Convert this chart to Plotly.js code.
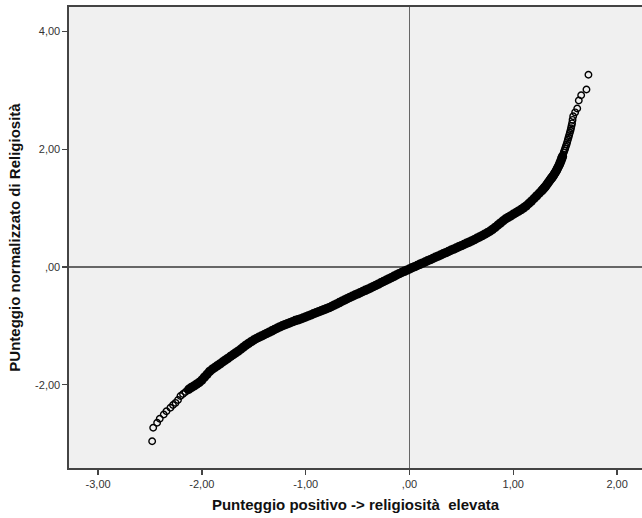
<!DOCTYPE html>
<html>
<head>
<meta charset="utf-8">
<script src="https://cdn.plot.ly/plotly-3.0.1.min.js"></script>
<style>html,body{margin:0;padding:0;background:#fff}#chart{width:642px;height:518px}</style>
</head>
<body>
<div id="chart"></div>
<script>
const xTickVals = [-3, -2, -1, 0, 1, 2];
const xTickText = ["-3,00", "-2,00", "-1,00", ",00", "1,00", "2,00"];
const yTickVals = [-2, 0, 2, 4];
const yTickText = ["-2,00", ",00", "2,00", "4,00"];

// sparse lower tail
const tailX = [-2.479,-2.469,-2.431,-2.406,-2.367,-2.341,-2.303,-2.278,-2.254,-2.230,-2.206,-2.182,-2.158,-2.134];
const tailY = [-2.960,-2.732,-2.647,-2.579,-2.506,-2.450,-2.392,-2.345,-2.308,-2.260,-2.192,-2.158,-2.124,-2.090];

// dense central band
const bandX = [
-2.125,-2.100,-2.075,-2.050,-2.025,-2.000,-1.975,-1.950,-1.925,-1.900,-1.875,-1.850,-1.825,-1.800,-1.775,-1.750,
-1.725,-1.700,-1.675,-1.650,-1.625,-1.600,-1.575,-1.550,-1.525,-1.500,-1.475,-1.450,-1.425,-1.400,-1.375,-1.350,
-1.325,-1.300,-1.275,-1.250,-1.225,-1.200,-1.175,-1.150,-1.125,-1.100,-1.075,-1.050,-1.025,-1.000,-0.975,-0.950,
-0.925,-0.900,-0.875,-0.850,-0.825,-0.800,-0.775,-0.750,-0.725,-0.700,-0.675,-0.650,-0.625,-0.600,-0.575,-0.550,
-0.525,-0.500,-0.475,-0.450,-0.425,-0.400,-0.375,-0.350,-0.325,-0.300,-0.275,-0.250,-0.225,-0.200,-0.175,-0.150,
-0.125,-0.100,-0.075,-0.050,-0.025,0.000,0.025,0.050,0.075,0.100,0.125,0.150,0.175,0.200,0.225,0.250,
0.275,0.300,0.325,0.350,0.375,0.400,0.425,0.450,0.475,0.500,0.525,0.550,0.575,0.600,0.625,0.650,
0.675,0.700,0.725,0.750,0.775,0.800,0.825,0.850,0.875,0.900,0.925,0.950,0.975,1.000,1.025,1.050,
1.075,1.100,1.125,1.150,1.175,1.200,1.225,1.250,
1.275,1.287,1.300,1.310,1.322,1.334,1.346,1.358,1.368,1.378,1.387,1.397,1.406,1.416,1.425,1.435,1.445,
1.452,1.460,1.467,1.474
];
const bandY = [
-2.077,-2.045,-2.019,-1.991,-1.961,-1.921,-1.872,-1.823,-1.774,-1.738,-1.707,-1.676,-1.645,-1.614,-1.583,-1.552,
-1.521,-1.491,-1.460,-1.429,-1.398,-1.362,-1.328,-1.297,-1.267,-1.240,-1.215,-1.194,-1.172,-1.150,-1.128,-1.106,
-1.084,-1.062,-1.040,-1.017,-0.998,-0.980,-0.963,-0.946,-0.928,-0.910,-0.897,-0.884,-0.866,-0.849,-0.831,-0.813,
-0.795,-0.778,-0.761,-0.743,-0.725,-0.708,-0.690,-0.670,-0.648,-0.626,-0.604,-0.582,-0.560,-0.538,-0.516,-0.496,
-0.476,-0.456,-0.436,-0.416,-0.396,-0.376,-0.356,-0.334,-0.312,-0.290,-0.268,-0.246,-0.224,-0.202,-0.180,-0.158,
-0.136,-0.113,-0.093,-0.073,-0.053,-0.033,-0.013,0.007,0.026,0.046,0.066,0.086,0.106,0.125,0.145,0.165,
0.185,0.205,0.225,0.244,0.264,0.284,0.304,0.324,0.344,0.364,0.383,0.403,0.422,0.444,0.466,0.488,
0.510,0.534,0.558,0.583,0.607,0.640,0.674,0.710,0.745,0.781,0.816,0.843,0.869,0.896,0.922,0.949,
0.976,1.006,1.039,1.079,1.120,1.164,1.208,1.253,
1.299,1.321,1.348,1.368,1.398,1.428,1.457,1.487,1.510,1.532,1.555,1.584,1.611,1.640,1.672,1.707,1.742,
1.775,1.808,1.845,1.878
];

// sparse upper tail
const topX = [1.480,1.487,1.493,1.499,1.506,1.513,1.519,1.526,1.532,1.538,1.545,1.551,1.556,
1.561,1.566,1.571,1.577,1.596,1.616,1.631,1.654,1.705,1.724];
const topY = [1.910,1.948,1.980,2.011,2.046,2.082,2.119,2.163,2.200,2.238,2.281,2.319,2.359,
2.399,2.440,2.500,2.562,2.628,2.693,2.829,2.919,3.016,3.266];

const tickFont = {family: "Liberation Sans, Arial, sans-serif", size: 11, color: "#333"};
const titleFont = {family: "Liberation Sans, Arial, sans-serif", size: 15, color: "#111"};

const thinMarker = {symbol: "circle-open", size: 6.5, color: "#000", line: {width: 1.4}};
const thickMarker = {symbol: "circle-open", size: 6, color: "#000", line: {width: 3.4}};

const layout = {
  width: 642, height: 518,
  margin: {l: 69, r: 0, t: 7, b: 50, pad: 0},
  paper_bgcolor: "#ffffff",
  plot_bgcolor: "#f0f0f0",
  showlegend: false,
  xaxis: {
    range: [-3.280, 2.240],
    tickvals: xTickVals, ticktext: xTickText,
    ticks: "outside", ticklen: 5, tickwidth: 1.5, tickcolor: "#444",
    showline: true, linecolor: "#444", linewidth: 1.6, mirror: true,
    showgrid: false,
    zeroline: true, zerolinecolor: "#666", zerolinewidth: 1.3,
    tickfont: tickFont,
    title: {text: "<b>Punteggio positivo -&gt; religiosità&nbsp; elevata</b>", font: titleFont, standoff: 11}
  },
  yaxis: {
    range: [-3.415, 4.418],
    tickvals: yTickVals, ticktext: yTickText,
    ticks: "outside", ticklen: 5, tickwidth: 1.5, tickcolor: "#444",
    showline: true, linecolor: "#444", linewidth: 1.6,
    showgrid: false,
    zeroline: true, zerolinecolor: "#666", zerolinewidth: 1.3,
    tickfont: tickFont,
    title: {text: "<b>PUnteggio normalizzato di Religiosità</b>", font: titleFont, standoff: 11}
  }
};

Plotly.newPlot("chart", [
  {type: "scatter", mode: "markers", x: bandX, y: bandY, marker: thickMarker, hoverinfo: "skip"},
  {type: "scatter", mode: "markers", x: tailX, y: tailY, marker: thinMarker, hoverinfo: "skip"},
  {type: "scatter", mode: "markers", x: topX, y: topY, marker: thinMarker, hoverinfo: "skip"}
], layout, {staticPlot: true, displayModeBar: false});
</script>
</body>
</html>
